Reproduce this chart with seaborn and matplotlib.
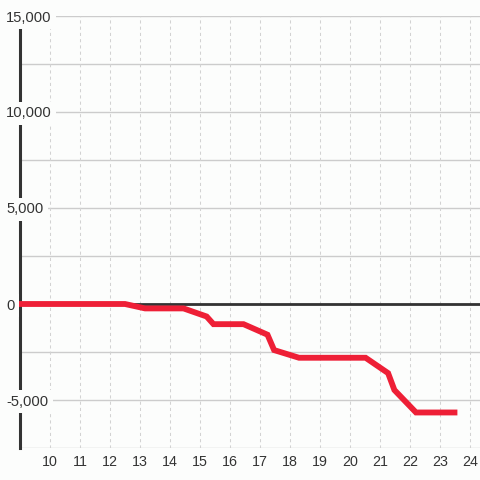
import matplotlib
matplotlib.use("Agg")
import matplotlib.pyplot as plt
import matplotlib.transforms as mtransforms
import seaborn as sns
import pandas as pd

# data
hours = [8.9, 12.5, 13.17, 14.45, 15.22, 15.45, 16.45, 17.25, 17.47, 18.3,
         20.52, 21.27, 21.48, 22.2, 23.58]
values = [0, 0, -230, -230, -650, -1050, -1050, -1600, -2400, -2800,
          -2800, -3600, -4480, -5650, -5650]
x_ticks = list(range(10, 25))
y_grid = [-7500, -5000, -2500, 0, 2500, 5000, 7500, 10000, 12500, 15000]
y_label_vals = [-5000, 0, 5000, 10000, 15000]
y_label_text = ["-5,000", "0", "5,000", "10,000", "15,000"]

BG = "#fcfdfc"
RED = "#ee1f36"
DARK = "#333333"
GRID = "#cccccc"

sns.set_style("white")
plt.rcParams["font.family"] = ["Liberation Sans", "DejaVu Sans"]

fig = plt.figure(figsize=(4.8, 4.8), dpi=100, facecolor=BG)
ax = fig.add_axes([20 / 480, 32 / 480, 460 / 480, 432 / 480])
ax.set_facecolor(BG)

df = pd.DataFrame({"hour": hours, "value": values})

ax.set_xlim(9, 24 + 1 / 3)
ax.set_ylim(-7500, 15000)

# grid
for y in y_grid:
    ax.axhline(y, color=GRID, lw=1.0, zorder=0.5)
for x in x_ticks:
    ax.axvline(x, color="#d2d2d2", lw=0.75, ls=(0, (3, 3)), zorder=0.5)

ax.axhline(0, color=DARK, lw=2.0, zorder=1)

sns.lineplot(data=df, x="hour", y="value", ax=ax, color=RED, lw=4.2,
             zorder=3, clip_on=False, solid_joinstyle="miter",
             solid_capstyle="butt")

ax.set_xticks(x_ticks)
ax.set_xticklabels([str(t) for t in x_ticks])
ax.set_yticks([])
ax.tick_params(axis="x", length=0, pad=5, labelsize=10.3, labelcolor=DARK)
ax.set_xlabel("")
ax.set_ylabel("")

for s in ["top", "right", "bottom"]:
    ax.spines[s].set_visible(False)
ax.spines["left"].set_color(DARK)
ax.spines["left"].set_linewidth(2.2)
ax.spines["left"].set_zorder(2)

trans = mtransforms.blended_transform_factory(ax.transAxes, ax.transData)
for v, t in zip(y_label_vals, y_label_text):
    ax.text(-14 / 460, v, t, transform=trans, ha="left", va="center_baseline",
            fontsize=10.6, color=DARK, zorder=10, clip_on=False,
            bbox=dict(boxstyle="square,pad=0.3", facecolor=BG, edgecolor="none"))

fig.savefig("out.png", dpi=100, facecolor=BG)
